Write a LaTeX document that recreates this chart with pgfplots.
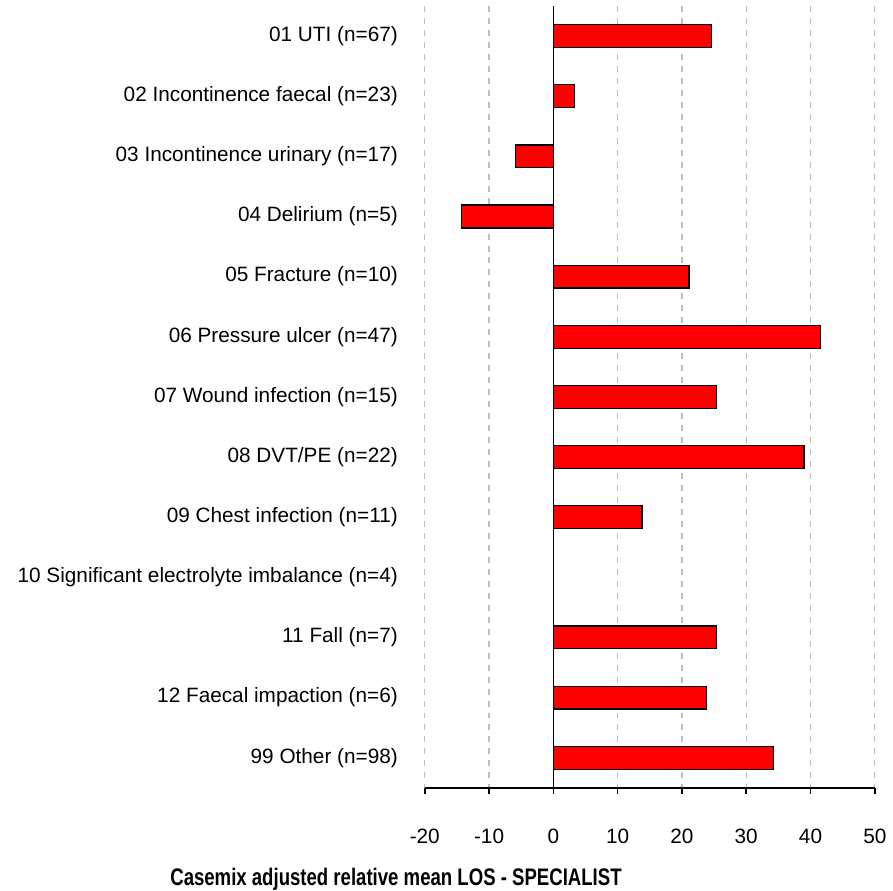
\documentclass[border=0pt]{standalone}
\usepackage{fontspec}
\setmainfont{Liberation Sans}
\usepackage{graphicx}
\usepackage{pgfplots}
\pgfplotsset{compat=1.18}

\definecolor{barred}{RGB}{255,0,0}
\definecolor{gridgray}{RGB}{190,190,190}

\begin{document}
\begin{tikzpicture}
\begin{axis}[
    width=225.5pt, height=391.7pt,
    scale only axis,
    font=\fontsize{10.4pt}{12pt}\selectfont,
    xmin=-20, xmax=50,
    ymin=0.5, ymax=13.5,
    y dir=reverse,
    axis x line=bottom,
    axis y line=left,
    axis line style={black, line width=0.8pt, -},
    y axis line style={draw=none},
    xtick={-20,-10,...,50},
    xticklabels={-20,-10,0,10,20,30,40,50},
    tick align=outside,
    major tick length=3pt,
    x tick style={black, line width=0.8pt},
    xticklabel style={yshift=-14pt},
    xmajorgrids,
    grid style={gridgray, dashed, line width=0.6pt},
    extra x ticks={0},
    extra x tick labels={},
    extra x tick style={grid style={solid, black, line width=0.8pt}, major tick length=0pt},
    ytick={1,...,13},
    yticklabels={
        01 UTI (n=67),
        02 Incontinence faecal (n=23),
        03 Incontinence urinary (n=17),
        04 Delirium (n=5),
        05 Fracture (n=10),
        06 Pressure ulcer (n=47),
        07 Wound infection (n=15),
        08 DVT/PE (n=22),
        09 Chest infection (n=11),
        10 Significant electrolyte imbalance (n=4),
        11 Fall (n=7),
        12 Faecal impaction (n=6),
        99 Other (n=98)},
    y tick style={draw=none},
    yticklabel style={xshift=-7pt, anchor=east},
    xbar,
    bar width=0.38,
    clip=false,
]
\addplot[fill=barred, draw=black, line width=0.6pt] coordinates {
    (24.6,1)
    (3.3,2)
    (-5.9,3)
    (-14.3,4)
    (21.1,5)
    (41.6,6)
    (25.4,7)
    (39.0,8)
    (13.8,9)
    (0,10)
    (25.4,11)
    (23.8,12)
    (34.3,13)
};
\node[font=\bfseries\fontsize{12pt}{14pt}\selectfont, anchor=base, inner sep=0pt]
    at (rel axis cs:-0.064,-0.1247) {\scalebox{0.776}[1]{Casemix adjusted relative mean LOS - SPECIALIST}};
\path (rel axis cs:-0.944,1.0077) rectangle (rel axis cs:1.036,-0.1284);
\end{axis}
\end{tikzpicture}
\end{document}
